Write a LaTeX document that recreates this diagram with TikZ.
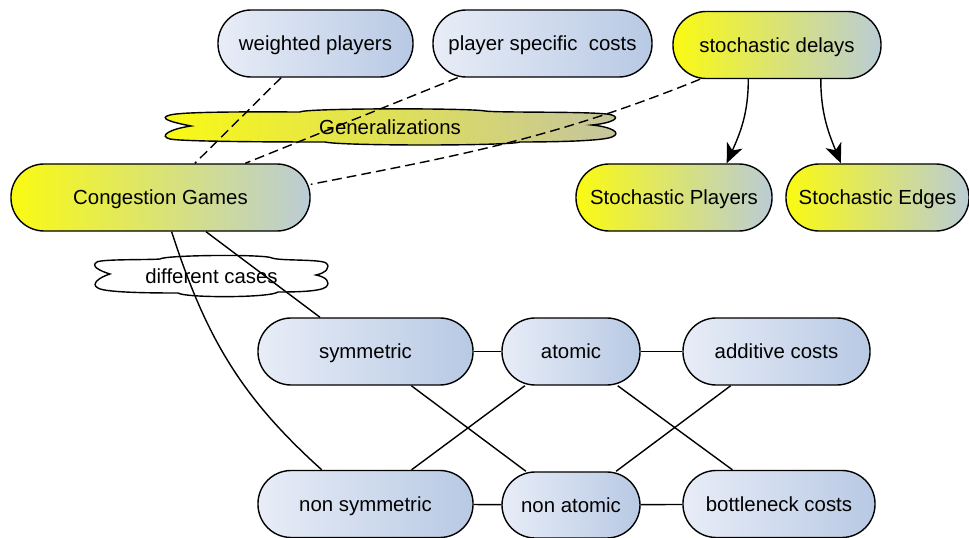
\documentclass[tikz,border=0pt]{standalone}
\usepackage{fontspec}
\setmainfont{Liberation Sans}
\usetikzlibrary{arrows.meta}
\definecolor{boxleft}{RGB}{232,237,247}
\definecolor{boxright}{RGB}{184,201,228}
\definecolor{yelleft}{RGB}{250,250,18}
\definecolor{yelright}{RGB}{186,204,214}
\definecolor{genright}{RGB}{196,196,160}

\begin{document}
\begin{tikzpicture}[x=0.025cm,y=-0.025cm,
  box/.style={draw, line width=1pt, rounded corners=0.83cm, minimum height=1.675cm, inner sep=0pt,
    text height=10.4pt, text depth=0pt},
  bluebox/.style={box, left color=boxleft, right color=boxright},
  yellowbox/.style={box, left color=yelleft, right color=yelright},
  cloudline/.style={draw, line width=1pt},
  cloudtext/.style={inner sep=0pt, text height=10.4pt, text depth=0pt},
  gen/.style={draw, line width=1pt, dash pattern=on 7pt off 3.6pt},
  link/.style={draw, line width=1pt},
  tip/.style={-{Stealth[length=14pt,width=12pt,inset=4pt]}}]
\fontsize{14.5pt}{17pt}\selectfont
\useasboundingbox (0,0) rectangle (969,538);

% clouds
\path[cloudline, left color=yelleft, right color=genright]
  (191,126) .. controls (170,122) and (158,118) .. (170,115)
  .. controls (185,111) and (280,112) .. (300,112)
  .. controls (305,108) and (470,108) .. (485,111)
  .. controls (500,113) and (600,111) .. (612,115)
  .. controls (621,118) and (612,123) .. (592,125)
  .. controls (612,127) and (622,133) .. (612,137)
  .. controls (600,142) and (530,142) .. (520,142)
  .. controls (510,146) and (340,146) .. (325,142)
  .. controls (300,142) and (185,142) .. (170,139)
  .. controls (158,136) and (170,129) .. (191,126) -- cycle;
\node[cloudtext] (genc) at (390,127) {Generalizations};

\path[cloudline, fill=white]
  (110,274) .. controls (100,271) and (90,266) .. (97,262)
  .. controls (102,259) and (150,260) .. (160,259)
  .. controls (165,255) and (265,254) .. (272,258)
  .. controls (280,261) and (320,259) .. (326,263)
  .. controls (331,267) and (326,273) .. (316,275)
  .. controls (326,277) and (331,282) .. (326,287)
  .. controls (320,292) and (290,292) .. (278,292)
  .. controls (270,298) and (185,298) .. (178,293)
  .. controls (160,293) and (105,293) .. (98,288)
  .. controls (90,284) and (100,277) .. (110,274) -- cycle;
\node[cloudtext] (dc) at (211.5,276.5) {different cases};

% top row
\node[bluebox, minimum width=4.875cm] (wp) at (315.5,43.5) {weighted players};
\node[bluebox, minimum width=5.475cm] (psc) at (542.5,43.5) {player specific\ \ costs};
\node[yellowbox, minimum width=5.2cm] (sd) at (777,45) {stochastic delays};

\node[yellowbox, minimum width=7.475cm] (cg) at (160.5,197.5) {Congestion Games};
\node[yellowbox, minimum width=4.9cm] (sp) at (674,197.5) {Stochastic Players};
\node[yellowbox, minimum width=4.575cm] (se) at (877.5,197.5) {Stochastic Edges};

% cases
\node[bluebox, minimum width=5.375cm] (sym) at (365.5,351.5) {symmetric};
\node[bluebox, minimum width=3.45cm] (at) at (571,351.5) {atomic};
\node[bluebox, minimum width=4.675cm] (add) at (776.5,351.5) {additive costs};
\node[bluebox, minimum width=5.375cm] (nsym) at (365.5,504) {non symmetric};
\node[bluebox, minimum width=3.45cm, minimum height=1.65cm] (nat) at (571,505) {non atomic};
\node[bluebox, minimum width=4.8cm] (bot) at (779,504) {bottleneck costs};

\path[gen] (wp) -- (cg);
\path[gen] (psc) -- (cg);
\path[gen] (sd.204) to[out=202,in=11] (cg.5);
\path[link,tip] (sd.230) to[out=270,in=66] (sp.33);
\path[link,tip] (sd.322) to[out=270,in=112] (se.137);

\path[link] (cg) -- (sym);
\path[link] (cg.288) to[out=288,in=138] (nsym.142);
\path[link] (sym) -- (at);
\path[link] (at) -- (add);
\path[link] (nsym) -- (nat);
\path[link] (nat) -- (bot);
\path[link] (sym) -- (nat);
\path[link] (at) -- (nsym);
\path[link] (at) -- (bot);
\path[link] (add) -- (nat);
\end{tikzpicture}
\end{document}
